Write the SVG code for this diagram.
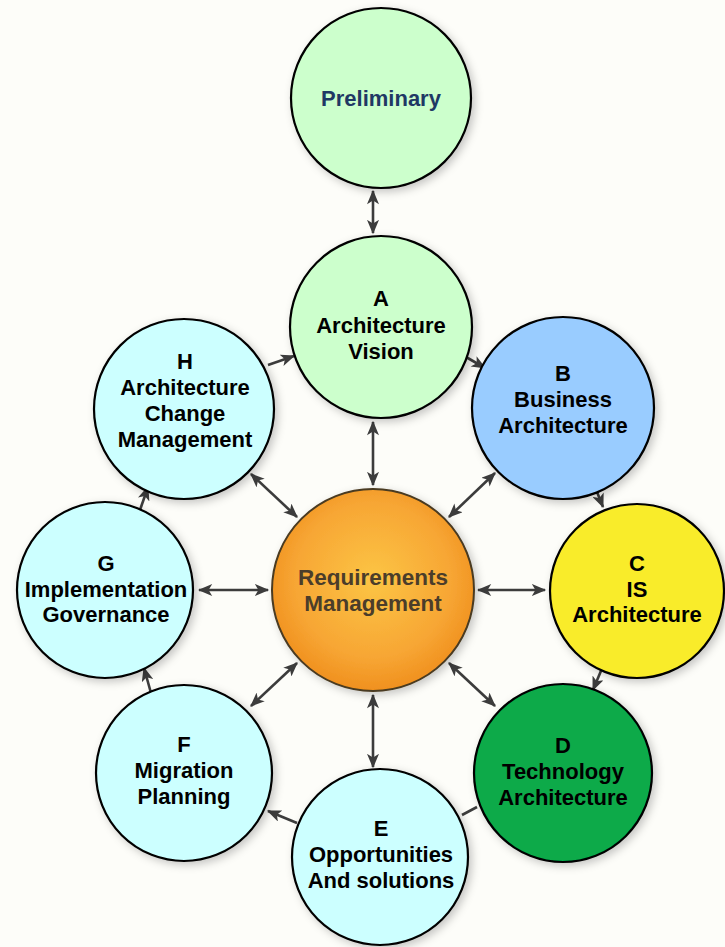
<svg xmlns="http://www.w3.org/2000/svg" width="725" height="947" viewBox="0 0 725 947">
<defs>
<style>
.node circle{stroke:#000;stroke-width:2.2;filter:url(#sh)}
.lbl{font-family:"Liberation Sans",Arial,sans-serif;font-weight:bold;font-size:22px;text-anchor:middle;fill:#000}
.conn line{stroke:#3c3c3c;stroke-width:2.6}
</style>
<filter id="sh" x="-20%" y="-20%" width="150%" height="150%">
<feDropShadow dx="3" dy="3" stdDeviation="4" flood-color="#000" flood-opacity="0.22"/>
</filter>
<radialGradient id="og" cx="50%" cy="45%" r="55%">
<stop offset="0" stop-color="#fcc545"/>
<stop offset="0.7" stop-color="#f7a634"/>
<stop offset="1" stop-color="#f0901e"/>
</radialGradient>
<marker id="ah" viewBox="0 0 12 10" refX="11" refY="5" markerWidth="15" markerHeight="12" markerUnits="userSpaceOnUse" orient="auto-start-reverse">
<path d="M0,0 L12,5 L0,10 L3,5 Z" fill="#3c3c3c"/>
</marker>
</defs>
<rect width="725" height="947" fill="#fdfdf9"/>
<g id="connectors" class="conn">
<line x1="373" y1="191" x2="373" y2="233" marker-start="url(#ah)" marker-end="url(#ah)"/>
<line x1="373" y1="485" x2="373" y2="422" marker-start="url(#ah)" marker-end="url(#ah)"/>
<line x1="297" y1="517" x2="251" y2="474" marker-start="url(#ah)" marker-end="url(#ah)"/>
<line x1="449" y1="517" x2="495" y2="473" marker-start="url(#ah)" marker-end="url(#ah)"/>
<line x1="268" y1="590" x2="199" y2="590" marker-start="url(#ah)" marker-end="url(#ah)"/>
<line x1="478" y1="590" x2="545" y2="590" marker-start="url(#ah)" marker-end="url(#ah)"/>
<line x1="297" y1="663" x2="251" y2="706" marker-start="url(#ah)" marker-end="url(#ah)"/>
<line x1="449" y1="663" x2="495" y2="706" marker-start="url(#ah)" marker-end="url(#ah)"/>
<line x1="373" y1="695" x2="373" y2="767" marker-start="url(#ah)" marker-end="url(#ah)"/>
<line x1="268" y1="365" x2="294" y2="356" marker-end="url(#ah)"/>
<line x1="466" y1="357" x2="485" y2="368" marker-end="url(#ah)"/>
<line x1="595" y1="487" x2="603" y2="507" marker-end="url(#ah)"/>
<line x1="603" y1="666" x2="593" y2="690" marker-end="url(#ah)"/>
<line x1="477" y1="807" x2="462" y2="815"/>
<line x1="297" y1="823" x2="268" y2="811" marker-end="url(#ah)"/>
<line x1="151" y1="693" x2="144" y2="668" marker-end="url(#ah)"/>
<line x1="140" y1="510" x2="148" y2="487" marker-end="url(#ah)"/>
</g>
<g id="preliminary" class="node"><circle cx="381" cy="98" r="90" fill="#ccffcc"/><text class="lbl" x="381" y="106" style="fill:#1f3864">Preliminary</text></g>
<g id="A" class="node"><circle cx="381" cy="327" r="91" fill="#ccffcc"/><text class="lbl" x="381" y="306">A</text><text class="lbl" x="381" y="333">Architecture</text><text class="lbl" x="381" y="359">Vision</text></g>
<g id="B" class="node"><circle cx="563" cy="408" r="91" fill="#99ccff"/><text class="lbl" x="563" y="381">B</text><text class="lbl" x="563" y="407">Business</text><text class="lbl" x="563" y="433">Architecture</text></g>
<g id="C" class="node"><circle cx="637" cy="591" r="87" fill="#f9ec2c"/><text class="lbl" x="637" y="571">C</text><text class="lbl" x="637" y="597">IS</text><text class="lbl" x="637" y="622">Architecture</text></g>
<g id="D" class="node"><circle cx="563" cy="773" r="89" fill="#07aa4a"/><text class="lbl" x="563" y="753">D</text><text class="lbl" x="563" y="779">Technology</text><text class="lbl" x="563" y="805">Architecture</text></g>
<g id="E" class="node"><circle cx="380" cy="857" r="88" fill="#ccffff"/><text class="lbl" x="381" y="836">E</text><text class="lbl" x="381" y="862">Opportunities</text><text class="lbl" x="381" y="888">And solutions</text></g>
<g id="F" class="node"><circle cx="184" cy="773" r="88" fill="#ccffff"/><text class="lbl" x="184" y="752">F</text><text class="lbl" x="184" y="778">Migration</text><text class="lbl" x="184" y="804">Planning</text></g>
<g id="G" class="node"><circle cx="105" cy="590" r="88" fill="#ccffff"/><text class="lbl" x="106" y="571">G</text><text class="lbl" x="106" y="597">Implementation</text><text class="lbl" x="106" y="622">Governance</text></g>
<g id="H" class="node"><circle cx="184" cy="409" r="90" fill="#ccffff"/><text class="lbl" x="185" y="369">H</text><text class="lbl" x="185" y="395">Architecture</text><text class="lbl" x="185" y="421">Change</text><text class="lbl" x="185" y="447">Management</text></g>
<g id="requirements" class="node"><circle cx="373" cy="590" r="101" fill="url(#og)" style="stroke:#4a3a20;stroke-width:2"/><text class="lbl" x="373" y="585" style="fill:#4b3d2a;font-size:22.5px">Requirements</text><text class="lbl" x="373" y="611" style="fill:#4b3d2a;font-size:22.5px">Management</text></g>
</svg>
